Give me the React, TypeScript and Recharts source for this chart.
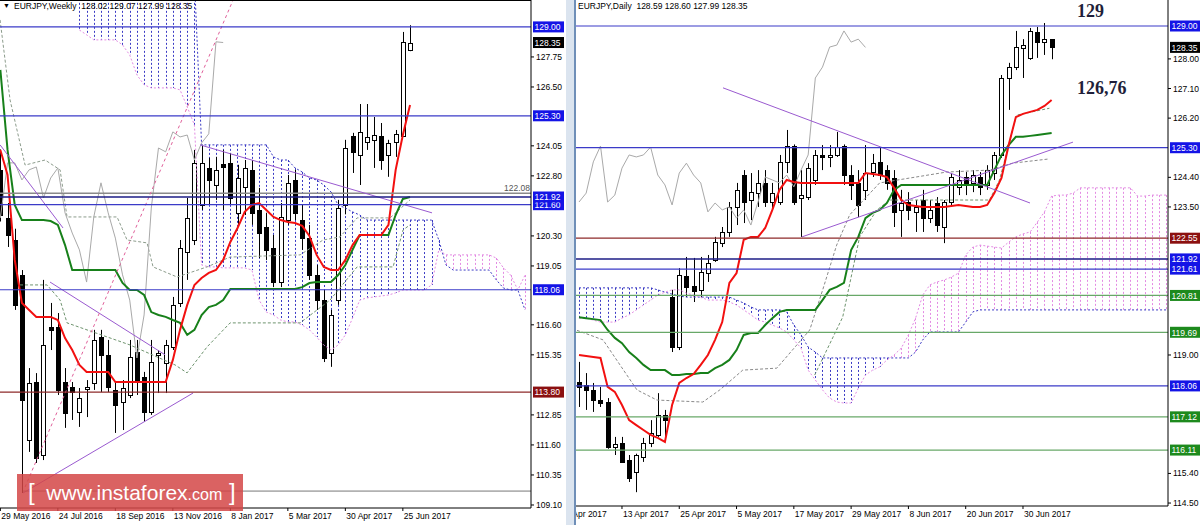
import React from "react";
import { ComposedChart, Bar, Line, XAxis, YAxis, ReferenceLine } from "recharts";

const FONT = "'Liberation Sans', Arial, sans-serif";

// ---------- weekly EURJPY (index 0 = week of 29 May 2016, 57 = week of 2 Jul 2017)
const weekOpen = [
  123.05, 121.05, 120.13, 118.68, 111.8, 114.22, 111.18, 116.51, 116.51, 114.22,
  114.01, 112.97, 113.93, 114.18, 116.09, 115.34, 113.89, 113.39, 113.68, 115.47,
  114.43, 112.97, 115.34, 115.01, 115.68, 117.51, 119.63, 120.13, 121.59, 123.13,
  122.42, 123.3, 123.34, 121.26, 122.34, 123.05, 121.38, 120.67, 119.8, 118.38,
  120.96, 122.63, 120.96, 120.21, 118.68, 117.63, 115.43, 117.63, 121.6, 124.46,
  123.67, 124.21, 124.3, 124.46, 123.67, 124.21, 124.46, 128.02,
];
const weekHigh = [
  123.9, 121.67, 120.6, 118.88, 114.8, 114.59, 118.47, 117.51, 117.09, 114.8,
  114.22, 113.97, 114.3, 116.39, 116.39, 115.97, 114.18, 114.3, 115.97, 115.97,
  114.64, 115.97, 115.55, 115.97, 117.76, 120.13, 121.88, 123.88, 124.09, 123.55,
  123.59, 123.88, 123.75, 123.26, 123.46, 123.46, 122.3, 121.26, 120.34, 121.67,
  122.84, 123.05, 121.59, 120.76, 119.09, 118.05, 117.22, 121.8, 124.3, 124.59,
  125.79, 125.79, 125.25, 125.0, 124.3, 124.71, 128.79, 129.07,
];
const weekLow = [
  120.9, 119.84, 117.22, 109.6, 111.31, 110.85, 110.97, 115.55, 113.68, 112.31,
  112.64, 112.35, 112.76, 113.89, 113.8, 113.8, 112.1, 112.22, 113.55, 113.68,
  112.56, 112.85, 113.76, 113.76, 115.55, 117.34, 118.47, 119.92, 121.38, 121.59,
  121.8, 121.38, 121.59, 120.76, 121.17, 120.76, 119.38, 119.3, 118.17, 118.17,
  120.76, 120.96, 119.72, 118.47, 117.22, 115.05, 114.85, 117.43, 121.2, 122.92,
  122.42, 123.88, 123.13, 123.05, 122.76, 123.59, 124.42, 127.99,
];
const weekClose = [
  121.17, 120.34, 117.43, 113.47, 114.18, 111.06, 115.76, 116.39, 113.89, 112.93,
  113.8, 113.55, 114.01, 115.97, 115.34, 114.01, 113.26, 113.97, 115.26, 114.22,
  112.97, 115.05, 115.42, 115.76, 117.43, 119.8, 121.05, 123.34, 123.34, 122.63,
  123.05, 123.17, 121.88, 122.71, 123.13, 121.26, 120.42, 119.72, 118.38, 121.09,
  122.51, 121.26, 120.21, 118.68, 117.63, 115.22, 117.01, 121.46, 123.96, 123.8,
  124.63, 124.42, 124.5, 123.46, 124.17, 124.55, 128.38, 128.35,
];
const weekTenkan = [
  123.88, 122.84, 119.3, 117.51, 117.22, 116.93, 116.93, 116.93, 116.8, 116.05,
  115.55, 114.93, 114.64, 114.64, 114.64, 114.64, 114.22, 114.22, 114.22, 114.22,
  114.22, 114.22, 114.22, 114.22, 115.14, 116.39, 117.43, 118.26, 118.55, 118.76,
  118.88, 119.3, 120.05, 120.63, 121.3, 121.59, 121.67, 121.38, 121.09, 120.96,
  120.88, 120.84, 120.72, 120.3, 119.51, 119.01, 118.88, 118.88, 119.3, 119.92,
  120.34, 120.34, 120.34, 120.34, 120.76, 123.05, 124.5, 125.75,
];
const weekKijun = [
  127.21, 123.88, 121.59, 120.96, 120.96, 120.96, 120.96, 120.92, 120.76, 119.92,
  118.88, 118.88, 118.88, 118.88, 118.88, 118.88, 118.88, 118.34, 118.05, 118.05,
  117.84, 117.13, 117.01, 116.93, 116.8, 116.68, 116.18, 116.39, 117.01, 117.34,
  117.43, 117.63, 118.09, 118.09, 118.09, 118.09, 118.09, 118.09, 118.09, 118.09,
  118.09, 118.09, 118.17, 118.34, 118.38, 118.38, 118.38, 118.67, 119.09, 119.72,
  120.34, 120.34, 120.34, 120.34, 120.34, 121.17, 121.84, 121.92,
];
// cloud (already shifted 26 weeks ahead), from index 11 to 73
const WEEK_CLOUD_FROM = 11;
const weekSpanA = [
  131, 131, 131, 131, 131, 131, 131, 131, 131, 131, 131, 131, 131, 131, 131, 131, 131,
  124.09, 124.09, 124.09, 124.09, 124.09, 124.09, 124.09, 124.09, 124.09, 124.09,
  123.59, 123.46, 123.46, 123.13, 122.96, 122.71, 122.63, 122.42, 122.13, 121.59, 121.46, 121.3, 121.17,
  120.96, 120.96, 120.96, 120.96, 120.96, 120.96, 120.96, 120.96, 120.96, 120.96,
  120.13, 119.09, 118.88, 118.88, 118.88, 118.88, 118.88, 118.88,
  118.47, 118.13, 118.05, 118.05, 117.22,
];
const weekSpanB = [
  128.87, 128.67, 128.46, 128.46, 128.46, 128.46, 128.25, 127.83, 127.0, 126.59, 126.46, 126.46, 126.46, 126.46, 126.38, 125.67, 124.92,
  119.09, 119.01, 119.01, 118.97, 118.97, 118.97, 118.97, 118.88, 117.63, 117.13,
  117.01, 116.8, 116.72, 116.72, 116.59, 116.39, 116.09, 115.76, 115.55, 115.76, 116.18, 116.88, 117.63,
  117.72, 117.76, 117.8, 117.84, 117.93, 118.05, 118.05, 118.05, 118.05, 118.26,
  119.72, 119.51, 119.51, 119.51, 119.51, 119.51, 119.51, 119.51,
  119.38, 118.97, 118.67, 118.05, 118.67,
];
const weekTickIdx = [0, 8, 16, 24, 32, 40, 48, 56];
const weekTickLabels = ["29 May 2016", "24 Jul 2016", "18 Sep 2016", "13 Nov 2016", "8 Jan 2017", "5 Mar 2017", "30 Apr 2017", "25 Jun 2017"];
const weekPriceTicks = [127.75, 126.5, 124.05, 122.8, 120.3, 119.05, 116.6, 115.35, 112.85, 111.6, 110.35, 109.1];
const weekBlueLevels = [129.0, 125.3, 121.6, 118.06];
const weekNavyLevel = 121.92;
const weekRedLevel = 113.8;
const weekGrayLevel = 122.08;
const weekLowLevel = 109.68;
const weekTrendA = [[-0.04, 124.09], [8.72, 120.63]];
const weekTrendB = [[6.91, 118.38], [22.92, 115.35]];
const weekTrendC = [[3.16, 109.6], [26.81, 113.76]];
const weekTrendD = [[27.78, 124.09], [60.06, 121.26]];
const weekRay = [[3.44, 109.85], [32.38, 130.12]];
const weekDash1I = [-0.04, 1.35, 3.44, 6.22, 8.31, 9.28, 16.24, 17.63, 20.41, 21.25, 24.58, 28.76, 31.96, 41.7, 44.9, 47.26, 49.63, 54.22, 57.0];
const weekDash1P = [129.29, 125.96, 123.25, 123.46, 123.05, 121.09, 121.09, 120.13, 120.01, 119.01, 118.59, 119.01, 119.42, 119.51, 120.13, 120.26, 121.05, 121.05, 121.8];
const weekDash2I = [2.74, 6.5, 8.31, 9.28, 18.05, 24.31, 25.98, 28.76, 31.96, 41.7, 45.87, 49.63, 54.64, 56.03, 57.0];
const weekDash2P = [118.26, 118.26, 117.63, 116.68, 115.76, 114.93, 114.6, 115.68, 116.68, 116.68, 117.63, 119.01, 119.01, 120.55, 120.76];

// ---------- daily EURJPY (index 0 = 5 Apr 2017, 66 = 6 Jul 2017)
const dayOpen = [
  118.18, 118.09, 117.94, 117.63, 117.57, 116.2, 116.32, 115.81, 115.44, 115.9,
  116.32, 116.57, 117.18, 120.76, 119.24, 121.4, 121.1, 120.98, 121.49, 121.89,
  122.4, 122.74, 123.5, 124.47, 123.71, 123.92, 124.23, 123.65, 123.65, 124.87,
  125.35, 123.77, 123.8, 124.32, 125.08, 125.02, 125.08, 125.35, 124.47, 124.23,
  124.02, 124.56, 124.87, 124.62, 124.38, 123.41, 123.65, 123.35, 123.71, 123.16,
  123.62, 122.89, 123.65, 124.11, 124.41, 124.23, 124.41, 124.17, 124.53, 125.08,
  127.42, 127.75, 128.33, 128.03, 128.82, 128.51, 128.59,
];
const dayHigh = [
  118.79, 118.45, 118.15, 118.03, 117.69, 116.51, 116.51, 115.96, 116.0, 116.48,
  117.02, 117.84, 117.33, 120.98, 121.64, 121.98, 121.95, 121.98, 122.04, 122.59,
  122.89, 123.65, 124.23, 124.62, 124.53, 124.62, 124.62, 124.23, 125.08, 125.84,
  125.4, 124.62, 124.83, 125.23, 125.38, 125.38, 125.78, 125.4, 124.77, 124.62,
  125.38, 125.11, 125.32, 124.77, 124.62, 124.02, 123.95, 123.71, 124.02, 123.71,
  123.8, 123.71, 124.53, 124.62, 124.56, 124.62, 124.56, 124.77, 125.17, 127.51,
  127.88, 128.85, 128.6, 128.94, 128.97, 129.09, 128.6,
];
const dayLow = [
  117.42, 117.33, 117.27, 117.42, 116.15, 115.96, 115.72, 115.14, 114.83, 115.75,
  116.2, 116.51, 116.51, 119.09, 119.15, 120.76, 120.61, 120.73, 121.22, 121.83,
  122.28, 122.59, 122.95, 123.01, 123.1, 123.5, 123.5, 123.41, 123.56, 124.53,
  123.56, 122.59, 123.71, 124.17, 124.62, 124.71, 125.02, 124.17, 123.71, 123.19,
  123.71, 124.41, 124.32, 124.02, 122.89, 122.59, 123.1, 122.74, 122.74, 123.01,
  122.74, 122.4, 123.5, 123.86, 123.86, 123.95, 123.86, 124.02, 124.32, 124.99,
  126.45, 127.66, 127.42, 127.97, 128.03, 128.12, 127.99,
];
const dayClose = [
  118.03, 117.94, 117.63, 117.54, 116.2, 116.29, 115.75, 115.26, 115.96, 116.32,
  116.63, 117.18, 117.02, 119.24, 121.43, 121.07, 120.95, 121.52, 121.8, 122.43,
  122.74, 123.5, 124.02, 123.65, 123.95, 124.23, 123.65, 123.92, 124.87, 125.35,
  123.65, 123.86, 124.68, 125.08, 125.02, 125.08, 125.32, 124.47, 124.17, 123.56,
  124.53, 124.83, 124.47, 124.23, 123.35, 123.62, 123.41, 123.5, 123.16, 123.41,
  122.95, 123.65, 124.41, 124.32, 124.23, 124.47, 124.11, 124.62, 125.08, 127.42,
  127.75, 128.36, 128.42, 128.85, 128.51, 128.6, 128.35,
];
const dayTenkan = [
  119.0, 118.97, 118.94, 118.91, 118.03, 117.88, 117.48, 117.02, 116.87, 116.72,
  116.57, 116.48, 116.36, 117.48, 118.15, 118.3, 118.42, 118.7, 119.0, 119.46,
  120.0, 121.19, 121.49, 122.5, 122.59, 122.59, 122.86, 123.41, 124.02, 124.32,
  124.26, 124.23, 124.23, 124.23, 124.23, 124.23, 124.23, 124.23, 124.23, 124.23,
  124.53, 124.5, 124.47, 124.41, 124.08, 123.71, 123.56, 123.53, 123.5, 123.5,
  123.5, 123.5, 123.53, 123.56, 123.53, 123.5, 123.5, 123.56, 123.92, 124.38,
  125.38, 126.23, 126.33, 126.39, 126.45, 126.57, 126.75,
];
const dayKijun = [
  120.15, 120.12, 120.09, 120.06, 119.76, 119.52, 119.36, 119.09, 118.91, 118.7,
  118.54, 118.54, 118.54, 118.39, 118.39, 118.42, 118.42, 118.45, 118.45, 118.6,
  118.7, 118.85, 119.15, 119.61, 119.67, 119.67, 119.91, 120.12, 120.31, 120.37,
  120.37, 120.37, 120.37, 120.37, 120.67, 120.98, 121.07, 121.19, 122.19, 122.59,
  123.16, 123.32, 123.41, 123.62, 124.02, 124.17, 124.17, 124.17, 124.17, 124.17,
  124.17, 124.17, 124.17, 124.17, 124.17, 124.17, 124.17, 124.17, 124.62, 125.08,
  125.38, 125.63, 125.63, 125.66, 125.69, 125.72, 125.75,
];
// cloud (shifted 26 days ahead), index 0 to 82
const daySpanA = [
  121.04, 121.04, 121.04, 121.04, 121.04, 121.04, 121.04, 121.04, 121.04, 121.04, 121.04,
  120.98, 120.91, 120.85, 120.79,
  120.76, 120.76, 120.76, 120.76, 120.76, 120.76, 120.76,
  120.67, 120.58, 120.46,
  120.37, 120.37, 120.37, 120.37,
  120.31, 119.91, 119.61, 119.24, 119.09,
  118.91, 118.91, 118.91, 118.91, 118.91, 118.91, 118.91, 118.91, 118.91, 118.91, 118.91, 118.91, 118.91,
  119.09, 119.46,
  119.7, 119.7, 119.7, 119.7, 119.7,
  120.0, 120.31,
  120.37, 120.37, 120.37, 120.37, 120.37, 120.37, 120.37, 120.37, 120.37, 120.37,
  120.37, 120.37, 120.37, 120.37, 120.37, 120.37, 120.37, 120.37, 120.37, 120.37,
  120.37, 120.37, 120.37, 120.37, 120.37, 120.37, 120.37,
];
const daySpanB = [
  120.12, 120.12, 120.06, 120.0, 120.0, 120.0, 120.12, 120.22, 120.37, 120.52,
  120.67, 120.82, 120.91, 120.98, 120.98, 120.88, 120.82, 120.76, 120.67, 120.67,
  120.67, 120.61, 120.52, 120.37, 120.22, 120.06, 120.0, 119.91, 119.82, 119.7,
  119.46, 119.21, 118.54, 118.24, 117.94, 117.69, 117.57, 117.54, 117.54, 117.99,
  118.39, 118.54, 118.64, 118.85, 119.0, 119.21, 119.61, 120.12, 120.82, 121.13,
  121.22, 121.28, 121.37, 121.49, 122.04, 122.28, 122.34, 122.31, 122.28, 122.25,
  122.43, 122.59, 122.68, 122.74, 123.04, 123.35, 123.83, 123.86, 123.86, 123.92,
  124.08, 124.08, 124.08, 124.08, 124.08, 124.08, 124.08, 124.08, 123.83, 123.83,
  123.86, 123.86, 123.86,
];
const dayTickIdx = [-2, 6, 14, 22, 30, 38, 46, 54, 62];
const dayTickLabels = ["3 Apr 2017", "13 Apr 2017", "25 Apr 2017", "5 May 2017", "17 May 2017", "29 May 2017", "8 Jun 2017", "20 Jun 2017", "30 Jun 2017"];
const dayPriceTicks = [128.0, 127.1, 126.2, 124.4, 123.5, 119.0, 115.4, 114.5];
const dayBlueLevels = [129.0, 125.3, 121.61, 118.06];
const dayNavyLevel = 121.92;
const dayRedLevel = 122.55;
const dayGreenLevels = [120.81, 119.69, 117.12, 116.11];
const dayTrendA = [[20.11, 127.12], [62.98, 123.62]];
const dayTrendB = [[31.14, 122.59], [68.98, 125.47]];
const dayDash1I = [-0.28, 3.35, 8.09, 10.88, 17.29, 19.67, 22.87, 27.62, 32.22, 34.03, 35.98, 37.8, 41.98, 51.32, 57.32, 60.53, 65.69];
const dayDash1P = [119.75, 119.46, 117.94, 117.63, 117.57, 117.94, 118.54, 118.6, 119.76, 120.98, 122.34, 123.26, 124.23, 124.56, 124.62, 124.83, 124.96];
const dayDash2I = [32.91, 36.82, 39.19, 41.56, 43.38, 51.32, 57.32, 58.72, 61.09, 65.69];
const dayDash2P = [118.39, 120.15, 122.59, 123.4, 123.71, 123.71, 123.71, 124.32, 126.29, 126.5];
const lastPrice = 128.35;

// ---------- colours
const RED = "#f21010";
const GREEN = "#17801a";
const CHIKOU = "#a9a9a9";
const SPAN_BLUE = "#3a3ac4";
const SPAN_PINK = "#e38be3";
const LEVEL_BLUE = "#3b3bc8";
const LEVEL_NAVY = "#1d1d86";
const LEVEL_RED = "#8e2a2a";
const LEVEL_GREEN = "#68a868";
const TAG_BLUE = "#1414e6";
const TAG_RED = "#8b1010";
const TAG_GREEN = "#1d8a1d";
const PURPLE = "#9a5ad0";

const weekRows = Array.from({ length: 74 }, (_, i) => ({
  i,
  o: weekOpen[i] ?? null,
  h: weekHigh[i] ?? null,
  l: weekLow[i] ?? null,
  c: weekClose[i] ?? null,
  t: weekTenkan[i] ?? null,
  k: weekKijun[i] ?? null,
  ch: weekClose[i + 26] ?? null,
  a: i >= WEEK_CLOUD_FROM ? weekSpanA[i - WEEK_CLOUD_FROM] ?? null : null,
  b: i >= WEEK_CLOUD_FROM ? weekSpanB[i - WEEK_CLOUD_FROM] ?? null : null,
}));

const dayRows = Array.from({ length: 83 }, (_, i) => ({
  i,
  o: dayOpen[i] ?? null,
  h: dayHigh[i] ?? null,
  l: dayLow[i] ?? null,
  c: dayClose[i] ?? null,
  t: dayTenkan[i] ?? null,
  k: dayKijun[i] ?? null,
  ch: dayClose[i + 26] ?? null,
  a: daySpanA[i] ?? null,
  b: daySpanB[i] ?? null,
}));

const toRows = (xs: number[], ps: number[]) => xs.map((i, n) => ({ i, p: ps[n] }));

const candleRange = (r: any) => (r.h == null ? null : [r.l, r.h]);
const cloudRange = (r: any) => (r.a == null ? null : [Math.min(r.a, r.b), Math.max(r.a, r.b)]);

const Candle = (props: any) => {
  const { x, y, width, height, payload } = props;
  if (!payload || payload.h == null) return <g />;
  const top = Math.min(y, y + height);
  const span = Math.abs(height);
  const py = (v: number) => top + ((payload.h - v) / (payload.h - payload.l)) * span;
  const cx = Math.round(x + width / 2) + 0.5;
  const up = payload.c >= payload.o;
  const b1 = Math.round(py(Math.max(payload.o, payload.c))) + 0.5;
  const b2 = Math.round(py(Math.min(payload.o, payload.c))) + 0.5;
  return (
    <g>
      <line x1={cx} x2={cx} y1={top} y2={top + span} stroke="#000" strokeWidth={1} />
      <rect x={cx - 2} y={b1} width={4} height={Math.max(1, b2 - b1)} fill={up ? "#fff" : "#000"} stroke="#000" strokeWidth={1} />
    </g>
  );
};

const Hatch = (props: any) => {
  const { x, y, width, height, payload } = props;
  if (!payload || payload.a == null) return <g />;
  const top = Math.min(y, y + height);
  const cx = Math.round(x + width / 2) + 0.5;
  return (
    <line x1={cx} x2={cx} y1={top} y2={top + Math.abs(height)} stroke={payload.a >= payload.b ? SPAN_BLUE : SPAN_PINK} strokeDasharray="2 2" strokeWidth={1} />
  );
};

const tag = (text: string, bg: string) => (p: any) => {
  const vb = p.viewBox;
  const x = vb.x + vb.width + 2;
  return (
    <g>
      <rect x={x} y={vb.y - 5.5} width={31} height={11} fill={bg} />
      <text x={x + 1.5} y={vb.y + 3.3} fontSize={8.5} fill="#fff" fontFamily={FONT}>
        {text}
      </text>
    </g>
  );
};

const grayText = (text: string) => (p: any) => {
  const vb = p.viewBox;
  return (
    <text x={vb.x + vb.width - 1} y={vb.y - 2.5} fontSize={8.5} fill="#555" textAnchor="end" fontFamily={FONT}>
      {text}
    </text>
  );
};

type Lvl = { v: number; line: string; bg: string; w?: number };

type PanelProps = {
  rows: any[];
  width: number;
  yWidth: number;
  xHeight: number;
  xDomain: [number, number];
  yDomain: [number, number];
  xTicks: number[];
  xLabels: string[];
  yTicks: number[];
  levels: Lvl[];
  trends: { pts: number[][]; color: string; dash?: string }[];
  dashes: { rows: any[]; color: string }[];
  extra?: React.ReactNode;
};

function Panel(p: PanelProps) {
  return (
    <ComposedChart width={p.width} height={525} data={p.rows} margin={{ top: 0, right: 0, bottom: 0, left: 0 }}>
      <XAxis
        dataKey="i"
        type="number"
        domain={p.xDomain}
        allowDataOverflow
        ticks={p.xTicks}
        interval={0}
        height={p.xHeight}
        tickSize={3}
        axisLine={{ stroke: "#000" }}
        tickLine={{ stroke: "#000" }}
        tick={(t: any) => (
          <text x={t.x + 1} y={t.y + 6} fontSize={8.5} fill="#000" fontFamily={FONT}>
            {p.xLabels[p.xTicks.indexOf(t.payload.value)]}
          </text>
        )}
      />
      <XAxis xAxisId="cloud" dataKey="i" type="number" domain={p.xDomain} allowDataOverflow hide />
      <YAxis
        orientation="right"
        type="number"
        domain={p.yDomain}
        allowDataOverflow
        ticks={p.yTicks}
        interval={0}
        width={p.yWidth}
        tickSize={3}
        axisLine={{ stroke: "#000" }}
        tickLine={{ stroke: "#000" }}
        tick={(t: any) => (
          <text x={t.x} y={t.y + 3} fontSize={8.5} fill="#000" fontFamily={FONT}>
            {Number(t.payload.value).toFixed(2)}
          </text>
        )}
      />
      <Bar xAxisId="cloud" dataKey={cloudRange} barSize={1} shape={Hatch} isAnimationActive={false} />
      <Line dataKey="a" stroke={SPAN_BLUE} strokeDasharray="2 2" strokeWidth={1} dot={false} activeDot={false} isAnimationActive={false} />
      <Line dataKey="b" stroke={SPAN_PINK} strokeDasharray="2 2" strokeWidth={1} dot={false} activeDot={false} isAnimationActive={false} />
      <Bar dataKey={candleRange} barSize={5} shape={Candle} isAnimationActive={false} />
      {p.dashes.map((d, n) => (
        <Line key={"d" + n} data={d.rows} dataKey="p" stroke={d.color} strokeDasharray="3 2" strokeWidth={1} dot={false} activeDot={false} isAnimationActive={false} />
      ))}
      <Line dataKey="ch" stroke={CHIKOU} strokeWidth={1} dot={false} activeDot={false} isAnimationActive={false} />
      <Line dataKey="k" stroke={GREEN} strokeWidth={2} dot={false} activeDot={false} isAnimationActive={false} />
      <Line dataKey="t" stroke={RED} strokeWidth={2} dot={false} activeDot={false} isAnimationActive={false} />
      {p.extra}
      {p.trends.map((tr, n) => (
        <ReferenceLine
          key={"t" + n}
          segment={[{ x: tr.pts[0][0], y: tr.pts[0][1] }, { x: tr.pts[1][0], y: tr.pts[1][1] }]}
          stroke={tr.color}
          strokeDasharray={tr.dash}
          strokeWidth={1}
          ifOverflow="hidden"
        />
      ))}
      {p.levels.map((lv, n) => (
        <ReferenceLine key={"l" + n} y={lv.v} stroke={lv.line} strokeWidth={lv.w ?? 1.2} label={tag(lv.v.toFixed(2), lv.bg)} />
      ))}
      <ReferenceLine y={lastPrice} stroke="none" label={tag(lastPrice.toFixed(2), "#000")} />
    </ComposedChart>
  );
}

export default function App() {
  const weekLevels: Lvl[] = [
    ...weekBlueLevels.map((v) => ({ v, line: LEVEL_BLUE, bg: TAG_BLUE })),
    { v: weekNavyLevel, line: LEVEL_NAVY, bg: TAG_BLUE, w: 1.5 },
    { v: weekRedLevel, line: LEVEL_RED, bg: TAG_RED },
  ];
  const dayLevels: Lvl[] = [
    ...dayBlueLevels.map((v) => ({ v, line: LEVEL_BLUE, bg: TAG_BLUE })),
    { v: dayNavyLevel, line: LEVEL_NAVY, bg: TAG_BLUE, w: 1.5 },
    { v: dayRedLevel, line: LEVEL_RED, bg: TAG_RED },
    ...dayGreenLevels.map((v) => ({ v, line: LEVEL_GREEN, bg: TAG_GREEN })),
  ];
  return (
    <div style={{ position: "absolute", left: 0, top: 0, width: 1200, height: 525, overflow: "hidden", background: "#fff", fontFamily: FONT }}>
      <div style={{ position: "absolute", left: 0, top: 0 }}>
        <Panel
          rows={weekRows}
          width={566}
          yWidth={35}
          xHeight={17}
          xDomain={[-0.05, 73.83]}
          yDomain={[108.975, 130.12]}
          xTicks={weekTickIdx}
          xLabels={weekTickLabels}
          yTicks={weekPriceTicks}
          levels={weekLevels}
          trends={[
            { pts: weekTrendA, color: PURPLE },
            { pts: weekTrendB, color: PURPLE },
            { pts: weekTrendC, color: PURPLE },
            { pts: weekTrendD, color: PURPLE },
            { pts: weekRay, color: "#e0609a", dash: "3 3" },
            { pts: [[weekTrendC[0][0], weekLowLevel], [73.83, weekLowLevel]], color: "#777" },
          ]}
          dashes={[
            { rows: toRows(weekDash1I, weekDash1P), color: "#8c9c8c" },
            { rows: toRows(weekDash2I, weekDash2P), color: "#6f946f" },
          ]}
          extra={<ReferenceLine y={weekGrayLevel} stroke="#8a8a8a" strokeWidth={1.5} label={grayText(weekGrayLevel.toFixed(2))} />}
        />
      </div>
      <div style={{ position: "absolute", left: 0, top: 0, width: 531, height: 1, background: "#000" }} />
      <div style={{ position: "absolute", left: 3, top: 1, fontSize: 7, lineHeight: "10px" }}>▼</div>
      <div style={{ position: "absolute", left: 14, top: 1, fontSize: 8.5, lineHeight: "11px", whiteSpace: "pre" }}>
        {"EURJPY,Weekly  128.02 129.07 127.99 128.35"}
      </div>

      <div style={{ position: "absolute", left: 575, top: 0 }}>
        <Panel
          rows={dayRows}
          width={625}
          yWidth={32}
          xHeight={19}
          xDomain={[-0.559, 82.25]}
          yDomain={[114.41, 129.79]}
          xTicks={dayTickIdx}
          xLabels={dayTickLabels}
          yTicks={dayPriceTicks}
          levels={dayLevels}
          trends={[
            { pts: dayTrendA, color: PURPLE },
            { pts: dayTrendB, color: PURPLE },
          ]}
          dashes={[
            { rows: toRows(dayDash1I, dayDash1P), color: "#8a8a8a" },
            { rows: toRows(dayDash2I, dayDash2P), color: "#6f946f" },
          ]}
        />
      </div>
      <div style={{ position: "absolute", left: 578, top: 1, fontSize: 8.5, lineHeight: "11px", whiteSpace: "pre" }}>
        {"EURJPY,Daily  128.59 128.60 127.99 128.35"}
      </div>
      <div style={{ position: "absolute", left: 1077, top: 1, fontSize: 18, fontWeight: 700, fontFamily: "'Liberation Serif', 'DejaVu Serif', serif", color: "#1f1f3a", lineHeight: "20px" }}>
        129
      </div>
      <div style={{ position: "absolute", left: 1077, top: 78, fontSize: 18, fontWeight: 700, fontFamily: "'Liberation Serif', 'DejaVu Serif', serif", color: "#1f1f3a", lineHeight: "20px" }}>
        126,76
      </div>

      <div style={{ position: "absolute", left: 566, top: 0, width: 8, height: 525, background: "#dbe4ef" }} />
      <div style={{ position: "absolute", left: 574, top: 0, width: 2, height: 525, background: "#6f8fb8" }} />

      <div style={{ position: "absolute", left: 17, top: 474, width: 226, height: 37, background: "rgba(212, 70, 70, 0.85)" }} />
      <div style={{ position: "absolute", left: 28, top: 479, color: "#fff", whiteSpace: "pre", lineHeight: "26px", fontFamily: "'Liberation Sans', Arial, sans-serif" }}>
        <span style={{ fontSize: 24, fontWeight: 300 }}>[</span>
        <span style={{ fontSize: 21 }}>{"  www.instaforex"}</span>
        <span style={{ fontSize: 16 }}>.com</span>
        <span style={{ fontSize: 24, fontWeight: 300 }}>{" ]"}</span>
      </div>
    </div>
  );
}
